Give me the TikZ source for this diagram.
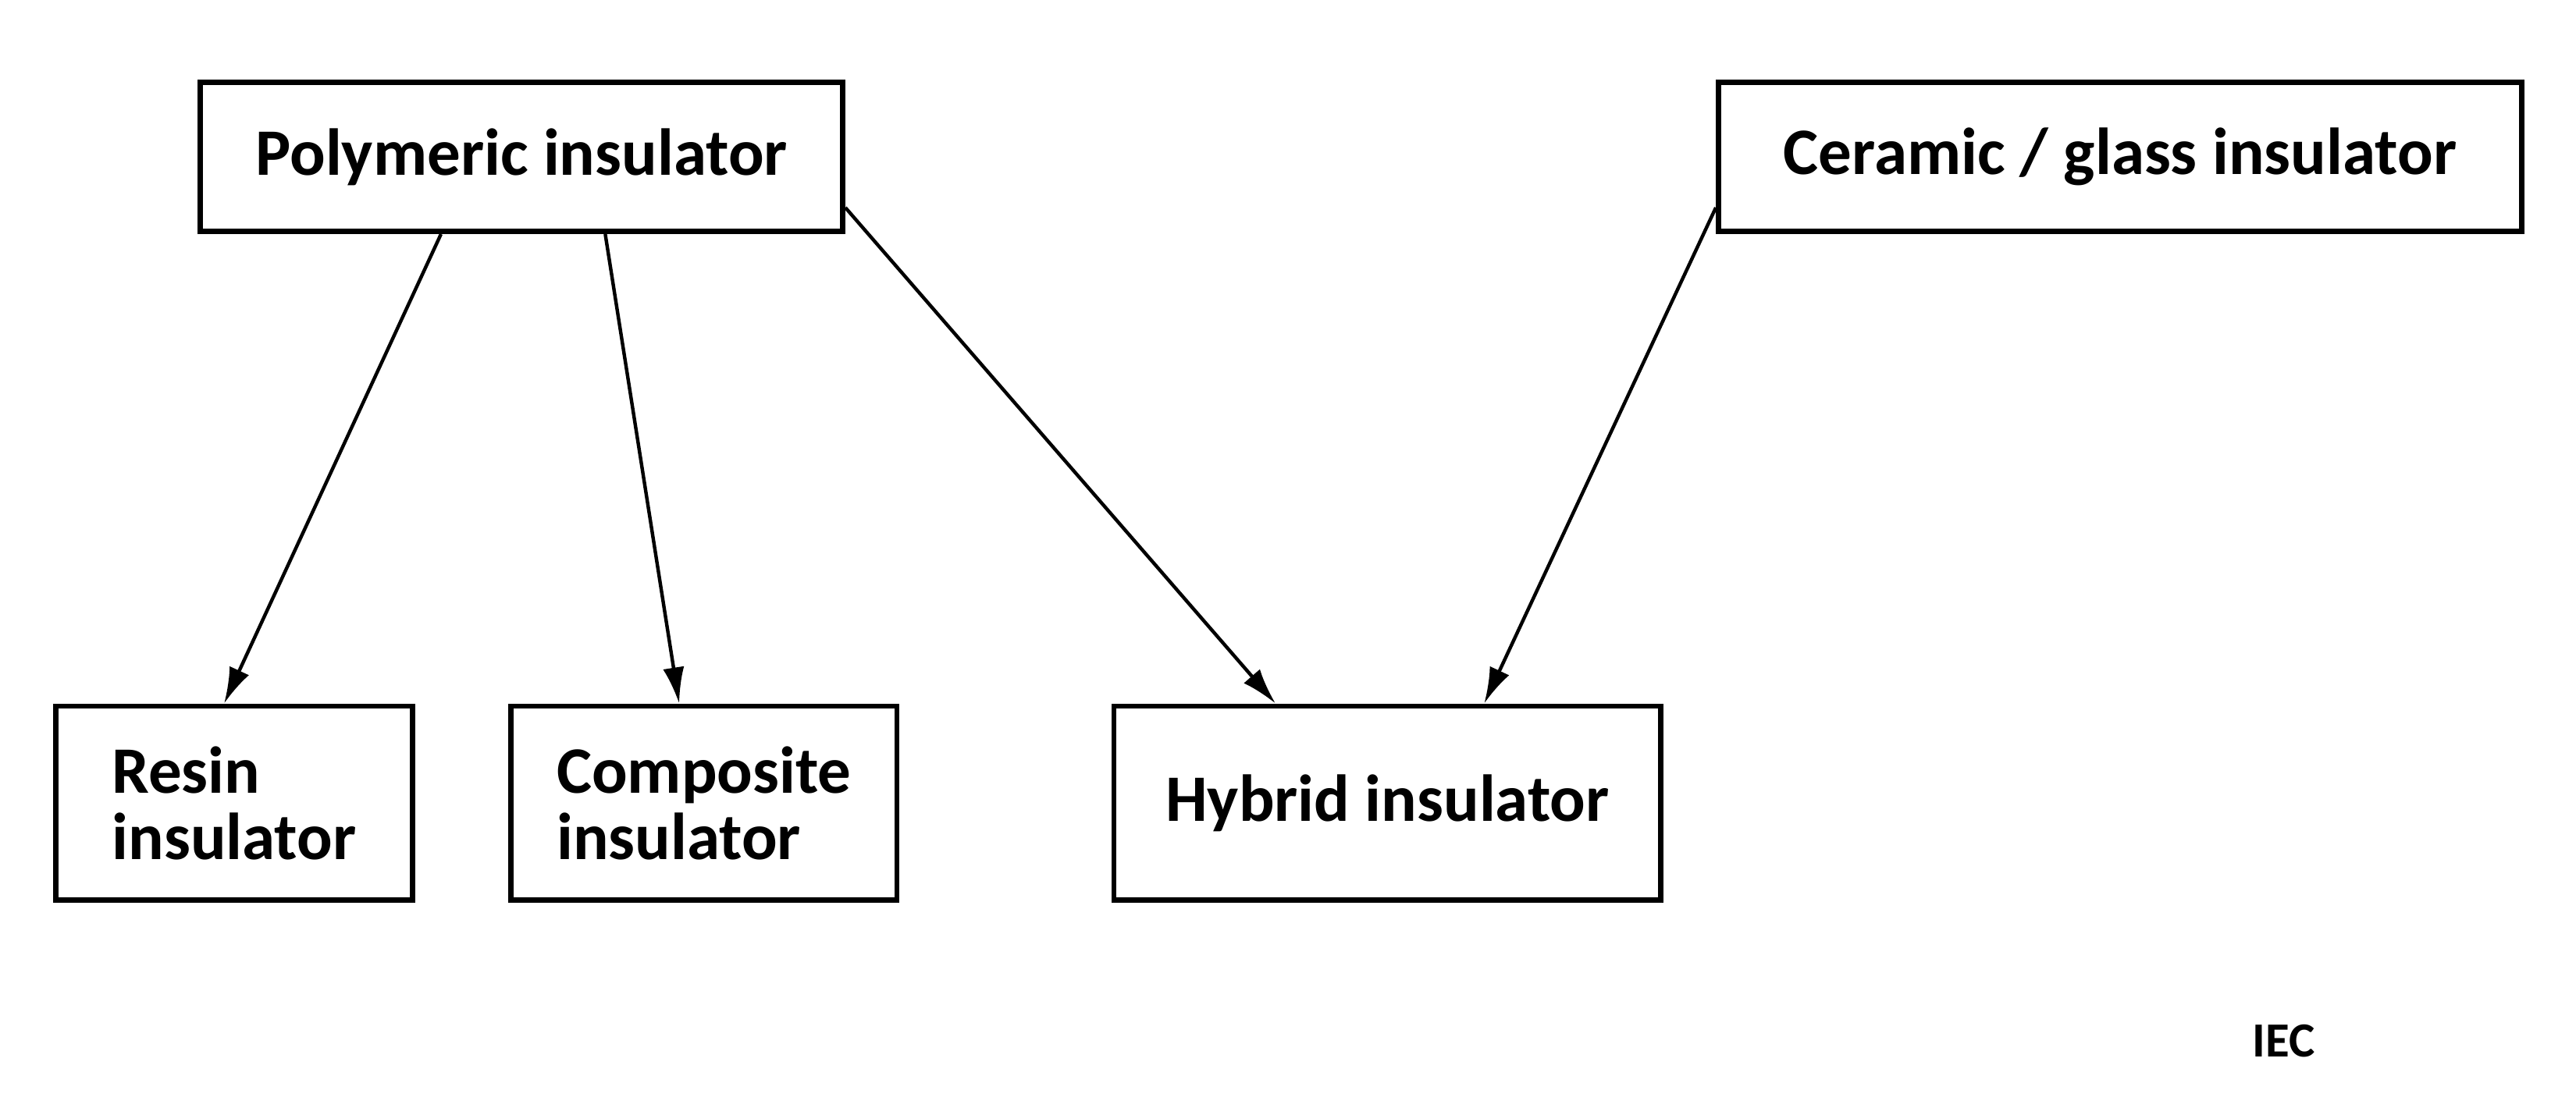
\documentclass[tikz,border=0pt]{standalone}
\usepackage{fontspec}
\setmainfont{Carlito}
\usetikzlibrary{arrows.meta}
\begin{document}
\begin{tikzpicture}[x=0.1mm,y=-0.1mm,
  box/.style={draw,line width=0.9pt,inner sep=0pt,align=left,font=\fontsize{11.5}{11.5}\selectfont\bfseries},
  arr/.style={line width=0.6pt,-{Latex[length=2.2mm,width=1.3mm]}}]
\useasboundingbox (0,0) rectangle (1568,678.6);
\node[box,minimum width=39.1mm,minimum height=9.1mm] (poly) at (317.5,95.5) {Polymeric insulator};
\node[box,minimum width=48.9mm,minimum height=9.1mm] (cer) at (1290.5,95.5) {Ceramic / glass insulator};
\node[box,minimum width=21.7mm,minimum height=11.8mm] (res) at (142.5,489) {Resin\\insulator};
\node[box,minimum width=23.5mm,minimum height=11.8mm] (comp) at (428.5,489) {Composite\\insulator};
\node[box,minimum width=33.3mm,minimum height=11.8mm] (hyb) at (844.5,489) {Hybrid insulator};
\node[font=\fontsize{8.5}{8.5}\selectfont\bfseries] (iec) at (1390,634) {IEC};
\draw[arr] ([xshift=14.8mm]poly.south west) -- ([xshift=10.4mm]res.north west);
\draw[arr] ([xshift=24.8mm]poly.south west) -- ([xshift=10.4mm]comp.north west);
\draw[arr] ([yshift=-7.8mm]poly.north east) -- ([xshift=10mm]hyb.north west);
\draw[arr] ([yshift=-7.8mm]cer.north west) -- ([xshift=22.7mm]hyb.north west);
\end{tikzpicture}
\end{document}
